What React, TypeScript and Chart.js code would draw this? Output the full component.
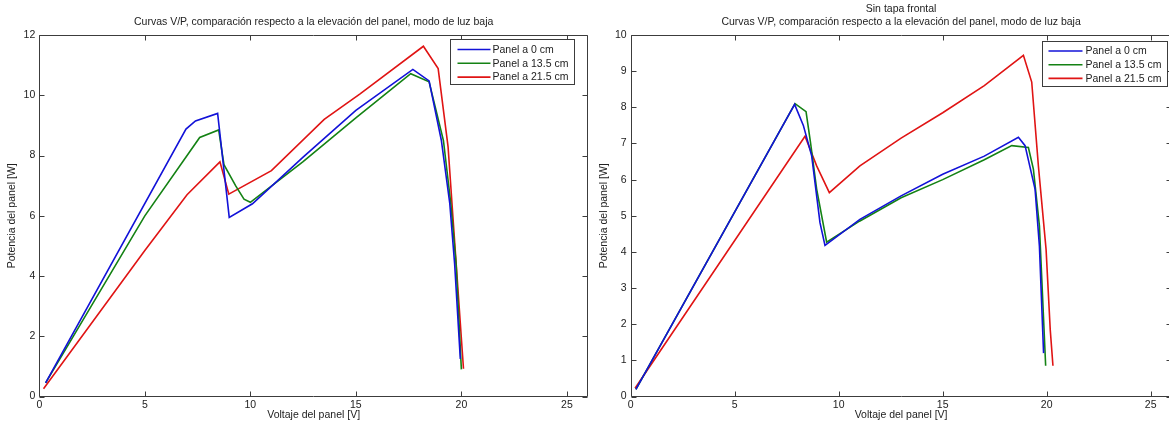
import React, { useEffect, useRef } from 'react';
import { Chart, registerables } from 'chart.js';

Chart.register(...registerables);

// ---------- text ----------
const leftTitle = ['Curvas V/P, comparación respecto a la elevación del panel, modo de luz baja'];
const rightTitle = ['Sin tapa frontal', 'Curvas V/P, comparación respecto a la elevación del panel, modo de luz baja'];
const xLabel = 'Voltaje del panel [V]';
const yLabel = 'Potencia del panel [W]';
const seriesLabels = ['Panel a 0 cm', 'Panel a 13.5 cm', 'Panel a 21.5 cm'];
const seriesColors = ['#1212d8', '#148214', '#e01414'];

// ---------- ticks ----------
const xTicks = [0, 5, 10, 15, 20, 25];
const leftYTicks = [0, 2, 4, 6, 8, 10, 12];
const rightYTicks = [0, 1, 2, 3, 4, 5, 6, 7, 8, 9, 10];

// ---------- left plot data (voltage V, power W) ----------
const left0V = [0.3, 6.95, 7.4, 8.45, 9.0, 10.1, 12.5, 15.0, 17.7, 18.47, 19.05, 19.45, 19.68, 19.95];
const left0P = [0.45, 8.88, 9.15, 9.4, 5.95, 6.4, 7.95, 9.5, 10.86, 10.48, 8.51, 6.41, 4.41, 1.25];

const left13V = [0.3, 5.0, 7.6, 8.5, 8.75, 9.3, 9.7, 10.0, 12.5, 15.0, 17.6, 18.47, 19.15, 19.5, 19.75, 20.0];
const left13P = [0.45, 6.0, 8.6, 8.85, 7.7, 7.0, 6.55, 6.45, 7.8, 9.25, 10.72, 10.45, 8.5, 6.4, 4.4, 0.9];

const left21V = [0.2, 5.0, 7.0, 8.56, 8.98, 11.0, 13.5, 15.2, 18.2, 18.9, 19.37, 19.6, 20.1];
const left21P = [0.26, 4.85, 6.7, 7.79, 6.72, 7.5, 9.2, 10.05, 11.63, 10.89, 8.29, 5.96, 0.92];

// ---------- right plot data (voltage V, power W) ----------
const right0V = [0.25, 7.88, 8.3, 8.7, 9.1, 9.34, 11.02, 13.0, 15.0, 17.0, 18.64, 18.96, 19.44, 19.65, 19.85];
const right0P = [0.2, 8.08, 7.5, 6.66, 4.81, 4.18, 4.9, 5.55, 6.15, 6.65, 7.17, 6.94, 5.74, 4.16, 1.2];

const right13V = [0.25, 7.9, 8.43, 8.65, 8.94, 9.42, 11.0, 13.0, 15.0, 17.0, 18.32, 19.12, 19.36, 19.65, 19.95];
const right13P = [0.2, 8.1, 7.88, 7.0, 5.74, 4.27, 4.85, 5.5, 6.0, 6.55, 6.94, 6.89, 6.29, 4.72, 0.85];

const right21V = [0.21, 8.38, 8.94, 9.55, 11.02, 13.0, 15.0, 17.0, 18.88, 19.28, 19.6, 19.97, 20.17, 20.3];
const right21P = [0.23, 7.2, 6.38, 5.64, 6.38, 7.15, 7.85, 8.6, 9.44, 8.7, 6.38, 4.07, 1.85, 0.85];

const FONT = "'Liberation Sans', Arial, Helvetica, sans-serif";
const TEXT = '#222222';
const FRAME = '#3c3c3c';

function pts(v: number[], p: number[]) {
  return v.map((x, i) => ({ x, y: p[i] }));
}

const matlabFrame = {
  id: 'matlabFrame',
  afterDatasetsDraw(chart: any, _args: any, opts: any) {
    const { ctx, chartArea: a, scales } = chart;
    const tl = 5;
    ctx.save();
    ctx.strokeStyle = FRAME;
    ctx.lineWidth = 1;
    const L = Math.round(a.left) + 0.5;
    const R = Math.round(a.right) - 0.5;
    const T = Math.round(a.top) + 0.5;
    const B = Math.round(a.bottom) - 0.5;
    ctx.beginPath();
    ctx.rect(L, T, R - L, B - T);
    scales.x.ticks.forEach((t: any) => {
      const px = Math.round(scales.x.getPixelForValue(t.value)) + 0.5;
      ctx.moveTo(px, B); ctx.lineTo(px, B - tl);
      ctx.moveTo(px, T); ctx.lineTo(px, T + tl);
    });
    scales.y.ticks.forEach((t: any) => {
      const py = Math.round(scales.y.getPixelForValue(t.value)) + 0.5;
      ctx.moveTo(L, py); ctx.lineTo(L + tl, py);
      ctx.moveTo(R, py); ctx.lineTo(R - tl, py);
    });
    ctx.stroke();

    // MATLAB-style legend box
    const lg = opts.legend;
    const bx = Math.round(a.right - lg.right - lg.width) + 0.5;
    const by = Math.round(a.top + lg.top) + 0.5;
    ctx.fillStyle = '#ffffff';
    ctx.fillRect(bx, by, lg.width, lg.height);
    ctx.strokeStyle = FRAME;
    ctx.strokeRect(bx, by, lg.width, lg.height);
    ctx.font = `10.5px ${FONT}`;
    ctx.textBaseline = 'middle';
    ctx.textAlign = 'left';
    chart.data.datasets.forEach((ds: any, i: number) => {
      const y = by + lg.firstRow + i * lg.rowGap;
      ctx.strokeStyle = ds.borderColor;
      ctx.lineWidth = 1.6;
      ctx.beginPath();
      ctx.moveTo(bx + lg.lineStart, y);
      ctx.lineTo(bx + lg.lineEnd, y);
      ctx.stroke();
      ctx.fillStyle = TEXT;
      ctx.fillText(ds.label, bx + lg.textStart, y + 0.5);
    });
    ctx.restore();
  },
};

type PlotProps = {
  left: number;
  width: number;
  padRight: number;
  yAxisWidth: number;
  yMax: number;
  yTicks: number[];
  title: string[];
  titlePad: { top: number; bottom: number };
  series: { v: number[]; p: number[] }[];
  legend: any;
};

function VPPlot(props: PlotProps) {
  const ref = useRef<HTMLCanvasElement | null>(null);
  useEffect(() => {
    if (!ref.current) return;
    const font = { family: FONT, size: 10.5, weight: 'normal' as const, lineHeight: 1.25 };
    const chart = new Chart(ref.current, {
      type: 'line',
      data: {
        datasets: props.series.map((s, i) => ({
          label: seriesLabels[i],
          data: pts(s.v, s.p),
          borderColor: seriesColors[i],
          backgroundColor: seriesColors[i],
          borderWidth: 1.6,
          pointRadius: 0,
          tension: 0,
          fill: false,
        })),
      },
      options: {
        animation: false,
        responsive: false,
        devicePixelRatio: 1,
        layout: { padding: { left: 0, right: props.padRight, top: 0, bottom: 0 } },
        plugins: {
          legend: { display: false },
          tooltip: { enabled: false },
          title: {
            display: true,
            text: props.title,
            fullSize: false,
            color: TEXT,
            font,
            padding: props.titlePad,
          },
          matlabFrame: { legend: props.legend },
        } as any,
        scales: {
          x: {
            type: 'linear',
            min: 0,
            max: 26,
            afterBuildTicks: (s: any) => {
              s.ticks = xTicks.map((v) => ({ value: v }));
            },
            afterFit: (s: any) => {
              s.height = 27.5;
            },
            grid: { display: false, drawTicks: false },
            border: { display: false },
            ticks: { padding: 2, color: TEXT, font, maxRotation: 0 },
            title: { display: true, text: xLabel, color: TEXT, font, padding: { top: 0, bottom: 2 } },
          },
          y: {
            type: 'linear',
            min: 0,
            max: props.yMax,
            afterBuildTicks: (s: any) => {
              s.ticks = props.yTicks.map((v) => ({ value: v }));
            },
            afterFit: (s: any) => {
              s.width = props.yAxisWidth;
            },
            grid: { display: false, drawTicks: false },
            border: { display: false },
            ticks: { padding: 4, color: TEXT, font },
            title: { display: true, text: yLabel, color: TEXT, font, padding: { top: 6, bottom: 0 } },
          },
        },
      },
      plugins: [matlabFrame],
    } as any);
    return () => chart.destroy();
  }, []);
  return (
    <canvas
      ref={ref}
      width={props.width}
      height={424}
      style={{ position: 'absolute', left: props.left, top: 0, width: props.width, height: 424 }}
    />
  );
}

export default function App() {
  return (
    <div
      style={{
        position: 'absolute',
        left: 0,
        top: 0,
        width: 1169,
        height: 424,
        overflow: 'hidden',
        background: '#ffffff',
      }}
    >
      <VPPlot
        left={0}
        width={592}
        padRight={4}
        yAxisWidth={39.3}
        yMax={12}
        yTicks={leftYTicks}
        title={leftTitle}
        titlePad={{ top: 16, bottom: 6 }}
        series={[
          { v: left0V, p: left0P },
          { v: left13V, p: left13P },
          { v: left21V, p: left21P },
        ]}
        legend={{ right: 14, top: 4, width: 124, height: 45, firstRow: 10, rowGap: 13.8, lineStart: 7, lineEnd: 40, textStart: 42 }}
      />
      <VPPlot
        left={592}
        width={590}
        padRight={10.5}
        yAxisWidth={38.7}
        yMax={10}
        yTicks={rightYTicks}
        title={rightTitle}
        titlePad={{ top: 2.4, bottom: 6.4 }}
        series={[
          { v: right0V, p: right0P },
          { v: right13V, p: right13P },
          { v: right21V, p: right21P },
        ]}
        legend={{ right: 4.5, top: 6, width: 125, height: 45, firstRow: 9.5, rowGap: 13.7, lineStart: 6, lineEnd: 40, textStart: 43 }}
      />
    </div>
  );
}
